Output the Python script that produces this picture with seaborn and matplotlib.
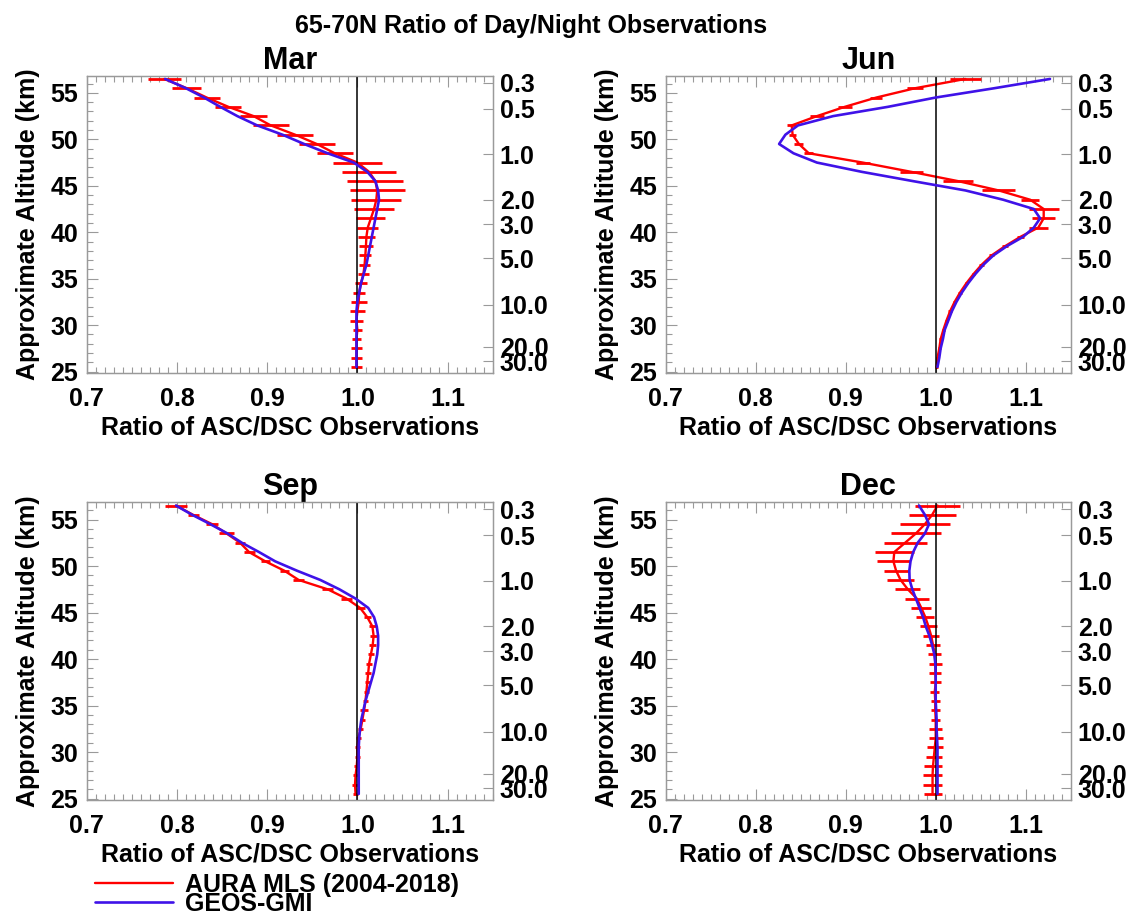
import numpy as np
import pandas as pd
import matplotlib
matplotlib.use("Agg")
import matplotlib.pyplot as plt
import seaborn as sns
from matplotlib.lines import Line2D
from matplotlib.ticker import FixedLocator, MultipleLocator, NullLocator

# ---------------- data ----------------
altitude_km = [56.5, 55.5, 54.5, 53.5, 52.5, 51.5, 50.5, 49.5, 48.5, 47.5, 46.5,
               45.5, 44.5, 43.5, 42.5, 41.5, 40.5, 39.5, 38.5, 37.5, 36.5, 35.5,
               34.5, 33.5, 32.5, 31.5, 30.5, 29.5, 28.5, 27.5, 26.5, 25.5]

months = ["Mar", "Jun", "Sep", "Dec"]

mar_mls = [0.786, 0.811, 0.833, 0.857, 0.885, 0.904, 0.931, 0.955, 0.975, 1.000, 1.013,
           1.020, 1.022, 1.021, 1.0185, 1.015, 1.0115, 1.010, 1.0095, 1.0088, 1.008, 1.0067,
           1.004, 1.002, 1.0015, 1.000, 0.999, 1.000, 0.999, 0.999, 0.999, 0.999]
mar_mls_err = [0.0185, 0.016, 0.0144, 0.0144, 0.015, 0.020, 0.020, 0.020, 0.020, 0.027, 0.030,
               0.031, 0.0305, 0.0276, 0.022, 0.016, 0.0115, 0.009, 0.0075, 0.0065, 0.0065, 0.0065,
               0.0065, 0.007, 0.009, 0.008, 0.0075, 0.005, 0.0046, 0.006, 0.006, 0.006]
mar_gmi = [0.787, 0.810, 0.830, 0.848, 0.867, 0.889, 0.917, 0.941, 0.967, 0.996, 1.011,
           1.020, 1.023, 1.024, 1.022, 1.020, 1.018, 1.016, 1.014, 1.012, 1.010, 1.007,
           1.004, 1.002, 1.000, 0.999, 0.999, 0.999, 0.999, 0.999, 0.999, 0.999]

jun_mls = [1.033, 0.977, 0.934, 0.899, 0.868, 0.840, 0.841, 0.848, 0.859, 0.919, 0.973,
           1.025, 1.070, 1.105, 1.120, 1.120, 1.114, 1.094, 1.077, 1.062, 1.051, 1.042,
           1.034, 1.027, 1.021, 1.016, 1.012, 1.0085, 1.0055, 1.004, 1.002, 1.001]
jun_mls_err = [0.017, 0.009, 0.0065, 0.008, 0.0075, 0.005, 0.004, 0.005, 0.005, 0.0075, 0.013,
               0.0165, 0.0185, 0.010, 0.0165, 0.013, 0.0105, 0.004, 0.003, 0.003, 0.003, 0.002,
               0.002, 0.002, 0.002, 0.002, 0.002, 0.002, 0.002, 0.002, 0.002, 0.002]
jun_gmi = [1.127, 1.065, 1.000, 0.947, 0.886, 0.847, 0.833, 0.826, 0.842, 0.868, 0.918,
           0.975, 1.033, 1.075, 1.109, 1.116, 1.109, 1.097, 1.079, 1.064, 1.053, 1.044,
           1.036, 1.029, 1.023, 1.018, 1.014, 1.010, 1.008, 1.0055, 1.004, 1.002]

sep_mls = [0.799, 0.818, 0.839, 0.855, 0.870, 0.880, 0.898, 0.919, 0.935, 0.967, 0.988,
           1.003, 1.011, 1.0167, 1.018, 1.017, 1.015, 1.013, 1.012, 1.011, 1.010, 1.009,
           1.0074, 1.0056, 1.0037, 1.001, 1.000, 1.000, 0.9993, 0.998, 0.9974, 0.998]
sep_mls_err = [0.012, 0.006, 0.007, 0.008, 0.006, 0.006, 0.005, 0.005, 0.006, 0.006, 0.006,
               0.005, 0.004, 0.004, 0.004, 0.004, 0.003, 0.003, 0.003, 0.003, 0.003, 0.003,
               0.004, 0.003, 0.003, 0.003, 0.003, 0.003, 0.003, 0.003, 0.003, 0.003]
sep_gmi = [0.799, 0.817, 0.837, 0.856, 0.872, 0.891, 0.909, 0.933, 0.959, 0.980, 0.998,
           1.012, 1.0185, 1.0215, 1.023, 1.023, 1.022, 1.020, 1.018, 1.015, 1.012, 1.009,
           1.0067, 1.0044, 1.003, 1.002, 1.0015, 1.0015, 1.0015, 1.0015, 1.0015, 1.0015]

dec_mls = [1.002, 0.996, 0.988, 0.978, 0.966, 0.954, 0.953, 0.956, 0.961, 0.969, 0.979,
           0.984, 0.9885, 0.992, 0.995, 0.997, 0.999, 0.9996, 0.9996, 1.000, 0.999, 0.9995,
           0.9995, 1.000, 1.000, 1.000, 0.999, 0.998, 0.997, 0.9965, 0.9965, 0.9965]
dec_mls_err = [0.025, 0.026, 0.028, 0.028, 0.024, 0.022, 0.018, 0.014, 0.015, 0.014, 0.013,
               0.011, 0.010, 0.0096, 0.009, 0.008, 0.0074, 0.0074, 0.0068, 0.006, 0.005, 0.005,
               0.005, 0.005, 0.007, 0.008, 0.009, 0.009, 0.010, 0.011, 0.011, 0.010]
dec_gmi = [0.9815, 0.988, 0.9926, 0.988, 0.980, 0.975, 0.972, 0.9707, 0.971, 0.974, 0.978,
           0.982, 0.986, 0.989, 0.993, 0.996, 0.9985, 0.9996, 1.000, 1.000, 1.000, 1.000,
           1.0005, 1.001, 1.001, 1.0015, 1.002, 1.002, 1.002, 1.002, 1.002, 1.002]

x_ticks = [0.7, 0.8, 0.9, 1.0, 1.1]
x_tick_labels = ["0.7", "0.8", "0.9", "1.0", "1.1"]
alt_ticks = [25, 30, 35, 40, 45, 50, 55]
pressure_labels = ["0.3", "0.5", "1.0", "2.0", "3.0", "5.0", "10.0", "20.0", "30.0"]
pressure_label_alt = [56.1, 53.3, 48.4, 43.5, 40.85, 37.2, 32.2, 27.65, 26.1]

mls_name = "AURA MLS (2004-2018)"
gmi_name = "GEOS-GMI"

series = {
    "Mar": (mar_mls, mar_mls_err, mar_gmi),
    "Jun": (jun_mls, jun_mls_err, jun_gmi),
    "Sep": (sep_mls, sep_mls_err, sep_gmi),
    "Dec": (dec_mls, dec_mls_err, dec_gmi),
}

rows = []
for m in months:
    mls, err, gmi = series[m]
    for a, v, e in zip(altitude_km, mls, err):
        rows.append(dict(month=m, source=mls_name, altitude=a, ratio=v, err=e))
    for a, v in zip(altitude_km, gmi):
        rows.append(dict(month=m, source=gmi_name, altitude=a, ratio=v, err=np.nan))
df = pd.DataFrame(rows)

# ---------------- style ----------------
sns.set_theme(style="ticks")
plt.rcParams["font.family"] = ["Liberation Sans", "DejaVu Sans"]
plt.rcParams["font.weight"] = "bold"
plt.rcParams["axes.labelweight"] = "bold"
plt.rcParams["axes.titleweight"] = "bold"
plt.rcParams["text.color"] = "black"
plt.rcParams["axes.labelcolor"] = "black"
plt.rcParams["xtick.labelcolor"] = "black"
plt.rcParams["ytick.labelcolor"] = "black"

RED = "#ff0000"
BLUE = "#3f12e8"
GRAY = "#9a9a9a"
FS = 18

fig = plt.figure(figsize=(11.3, 9.15), dpi=100)
W, H = 1130.0, 915.0
positions = {
    "Mar": (86.7, 75.7, 406, 297.3),
    "Jun": (665.7, 75.7, 405, 297.3),
    "Sep": (86.7, 502.3, 406, 297.7),
    "Dec": (665.7, 502.3, 405, 297.7),
}

for m in months:
    l, t, w, h = positions[m]
    ax = fig.add_axes([l / W, 1 - (t + h) / H, w / W, h / H])
    sub = df[df.month == m]
    mls = sub[sub.source == mls_name]
    gmi = sub[sub.source == gmi_name]

    ax.errorbar(mls["ratio"], mls["altitude"], xerr=mls["err"], fmt="none",
                ecolor=RED, elinewidth=2.0, capsize=0, zorder=2)
    sns.lineplot(data=mls, x="ratio", y="altitude", orient="y", estimator=None,
                 color=RED, linewidth=1.7, ax=ax, legend=False, zorder=3)
    ax.axvline(1.0, color="black", linewidth=1.1, zorder=3.5)
    sns.lineplot(data=gmi, x="ratio", y="altitude", orient="y", estimator=None,
                 color=BLUE, linewidth=1.9, ax=ax, legend=False, zorder=4)

    ax.set_xlim(0.7, 1.15)
    ax.set_ylim(24.85, 56.85)
    ax.xaxis.set_major_locator(FixedLocator(x_ticks))
    ax.set_xticklabels(x_tick_labels)
    ax.xaxis.set_minor_locator(MultipleLocator(0.01))
    ax.yaxis.set_major_locator(FixedLocator(alt_ticks))
    ax.yaxis.set_minor_locator(MultipleLocator(1))
    ax.tick_params(which="both", direction="in", top=True, right=True,
                   color=GRAY, width=0.8, labelcolor="black", labelsize=FS)
    ax.tick_params(which="major", length=8)
    ax.tick_params(which="minor", length=4)
    ax.tick_params(axis="x", which="major", pad=10)
    ax.tick_params(axis="y", which="major", pad=6)
    for s in ax.spines.values():
        s.set_color(GRAY)
        s.set_linewidth(0.9)
    ax.set_xlabel("Ratio of ASC/DSC Observations", fontsize=FS, labelpad=3, color="black")
    ax.set_ylabel("Approximate Altitude (km)", fontsize=FS, labelpad=8, color="black")
    ax.set_title(m, fontsize=22, fontweight="bold", pad=5, color="black")

    ax2 = ax.twinx()
    ax2.set_ylim(24.85, 56.85)
    ax2.yaxis.set_major_locator(FixedLocator(pressure_label_alt))
    ax2.set_yticklabels(pressure_labels)
    ax2.yaxis.set_minor_locator(NullLocator())
    ax2.tick_params(axis="y", direction="in", length=7, color=GRAY, width=0.8,
                    labelsize=FS, labelcolor="black", pad=5)
    for s in ax2.spines.values():
        s.set_color(GRAY)
        s.set_linewidth(0.9)
    ax2.grid(False)

fig.text(531.5 / W, 1 - 33.3 / H, "65-70N Ratio of Day/Night Observations",
         ha="center", va="baseline", fontsize=FS, fontweight="bold", color="black")

handles = [Line2D([], [], color=RED, linewidth=1.7),
           Line2D([], [], color=BLUE, linewidth=1.9)]
leg = fig.legend(handles, [mls_name, gmi_name], loc="upper left",
                 bbox_to_anchor=(95 / W, 1 - 873.0 / H), frameon=False,
                 handlelength=3.1, handletextpad=0.5,
                 labelspacing=-0.2, borderpad=0, borderaxespad=0,
                 prop={"weight": "bold", "size": FS})
for txt in leg.get_texts():
    txt.set_color("black")

fig.savefig("out.png", dpi=100)
